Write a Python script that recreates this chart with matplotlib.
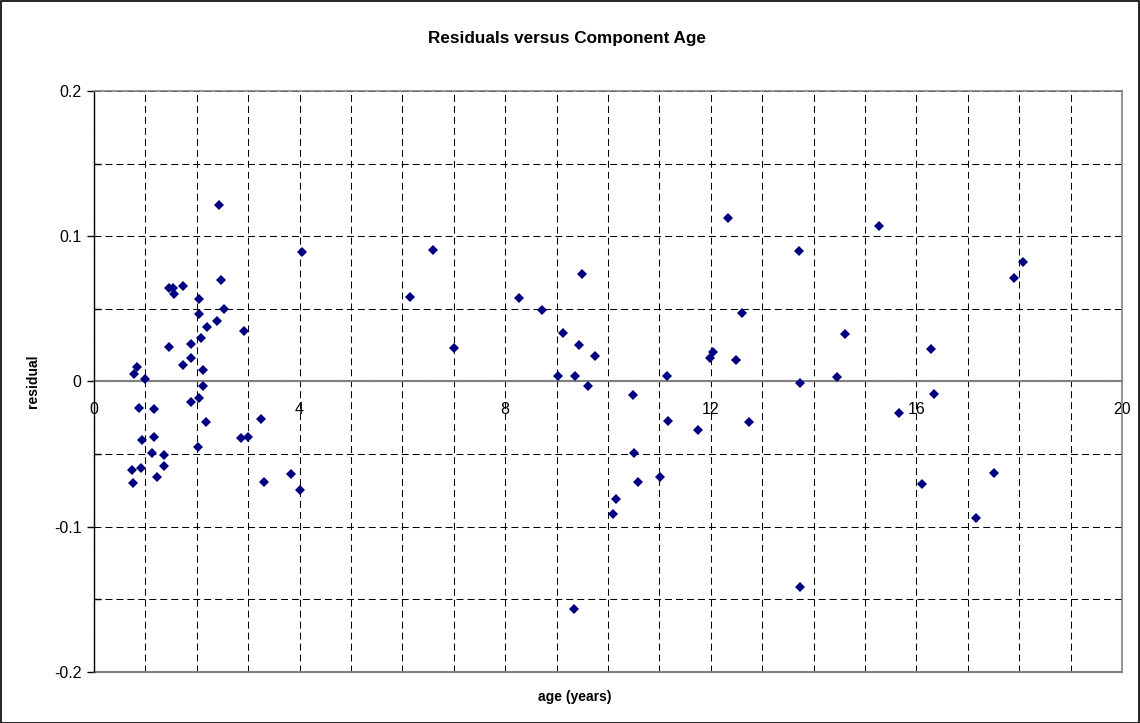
import matplotlib
matplotlib.use("Agg")
import matplotlib.pyplot as plt
from matplotlib.ticker import MultipleLocator, FuncFormatter
from matplotlib.patches import Rectangle

plt.rcParams['font.family'] = ['Liberation Sans', 'DejaVu Sans']
plt.rcParams['axes.unicode_minus'] = False
plt.rcParams['lines.scale_dashes'] = False

# Component age (years) and regression residual for each component
age = [0.73, 0.75, 0.77, 0.83, 0.87, 0.91, 0.93, 0.99, 1.13, 1.16,
       1.16, 1.22, 1.36, 1.36, 1.46, 1.46, 1.53, 1.56, 1.73, 1.74,
       1.89, 1.89, 1.89, 2.02, 2.04, 2.04, 2.04, 2.08, 2.12, 2.12,
       2.17, 2.19, 2.39, 2.43, 2.47, 2.52, 2.86, 2.92, 3.00, 3.24,
       3.30, 3.83, 4.01, 4.04, 6.15, 6.59, 7.01, 8.26, 8.72, 9.03,
       9.12, 9.34, 9.36, 9.43, 9.49, 9.62, 9.75, 10.10, 10.16, 10.49,
       10.51, 10.58, 11.01, 11.15, 11.16, 11.76, 11.98, 12.05, 12.33, 12.49,
       12.60, 12.75, 13.71, 13.73, 13.74, 14.46, 14.62, 15.28, 15.66, 16.11,
       16.28, 16.34, 17.15, 17.50, 17.90, 18.08]
residual = [-0.0612, -0.0699, 0.0053, 0.0099, -0.0181, -0.0594, -0.0401, 0.0016, -0.0495, -0.0190,
            -0.0385, -0.0658, -0.0509, -0.0580, 0.0644, 0.0236, 0.0640, 0.0601, 0.0110, 0.0658,
            0.0257, 0.0158, -0.0142, -0.0449, 0.0564, 0.0461, -0.0112, 0.0298, 0.0078, -0.0030,
            -0.0282, 0.0376, 0.0415, 0.1213, 0.0697, 0.0495, -0.0392, 0.0346, -0.0385, -0.0261,
            -0.0690, -0.0635, -0.0745, 0.0892, 0.0578, 0.0908, 0.0227, 0.0571, 0.0493, 0.0034,
            0.0335, -0.1568, 0.0034, 0.0250, 0.0739, -0.0030, 0.0175, -0.0917, -0.0807, -0.0094,
            -0.0495, -0.0690, -0.0658, 0.0039, -0.0275, -0.0337, 0.0163, 0.0204, 0.1128, 0.0149,
            0.0470, -0.0282, 0.0899, -0.0009, -0.1419, 0.0032, 0.0328, 0.1073, -0.0218, -0.0706,
            0.0220, -0.0085, -0.0940, -0.0628, 0.0713, 0.0823]

title = "Residuals versus Component Age"
x_label = "age (years)"
y_label = "residual"

W, H = 1140, 723
fig = plt.figure(figsize=(W / 100, H / 100), dpi=100)
ax = fig.add_axes([94 / W, (H - 671.7) / H, 1028 / W, 580.7 / H])

ax.set_xlim(0, 20)
ax.set_ylim(-0.2, 0.2)
ax.xaxis.set_major_locator(MultipleLocator(4))
ax.xaxis.set_minor_locator(MultipleLocator(1))
ax.yaxis.set_major_locator(MultipleLocator(0.1))
ax.yaxis.set_minor_locator(MultipleLocator(0.05))
ax.yaxis.set_major_formatter(FuncFormatter(lambda v, p: f"{round(v, 2):g}"))

# dashed grid on every minor step
ax.grid(True, which='both', axis='both', color='black', lw=0.75,
        linestyle=(0, (5, 2.9)), zorder=1)

gray = '#808080'
ax.spines['left'].set_color('black')
ax.spines['left'].set_linewidth(1.0)
for s in ('top', 'right'):
    ax.spines[s].set_color(gray)
    ax.spines[s].set_linewidth(1.2)
# x axis crosses at zero
ax.spines['bottom'].set_position(('data', 0))
ax.spines['bottom'].set_color(gray)
ax.spines['bottom'].set_linewidth(1.5)
ax.spines['bottom'].set_zorder(2)
ax.axhline(-0.2, color=gray, lw=1.5, zorder=2, clip_on=False)

ax.tick_params(axis='x', which='both', length=0, pad=15, labelsize=11.5)
ax.tick_params(axis='y', which='major', direction='out', length=5, width=1,
               pad=4, labelsize=11.5)
ax.tick_params(axis='y', which='minor', direction='in', length=5, width=1)

ax.plot(age, residual, linestyle='none', marker='D', markersize=5.6,
        color='#000080', markeredgewidth=0, zorder=3, clip_on=False)

ax.set_xlabel(x_label, fontsize=10, fontweight='bold')
ax.xaxis.set_label_coords(0.468, -0.044)
ax.xaxis.label.set_va('center')
ax.set_ylabel(y_label, fontsize=10, fontweight='bold')
ax.yaxis.set_label_coords(-0.059, 0.5)
ax.yaxis.label.set_va('center')

fig.text(567 / W, 1 - 38.5 / H, title, ha='center', va='center',
         fontsize=12.3, fontweight='bold')

fig.patches.append(Rectangle((0.5 / W, 0.5 / H), 1 - 1.5 / W, 1 - 1.5 / H,
                             transform=fig.transFigure, fill=False,
                             ec='black', lw=1.2))

fig.savefig("out.png", dpi=100)
